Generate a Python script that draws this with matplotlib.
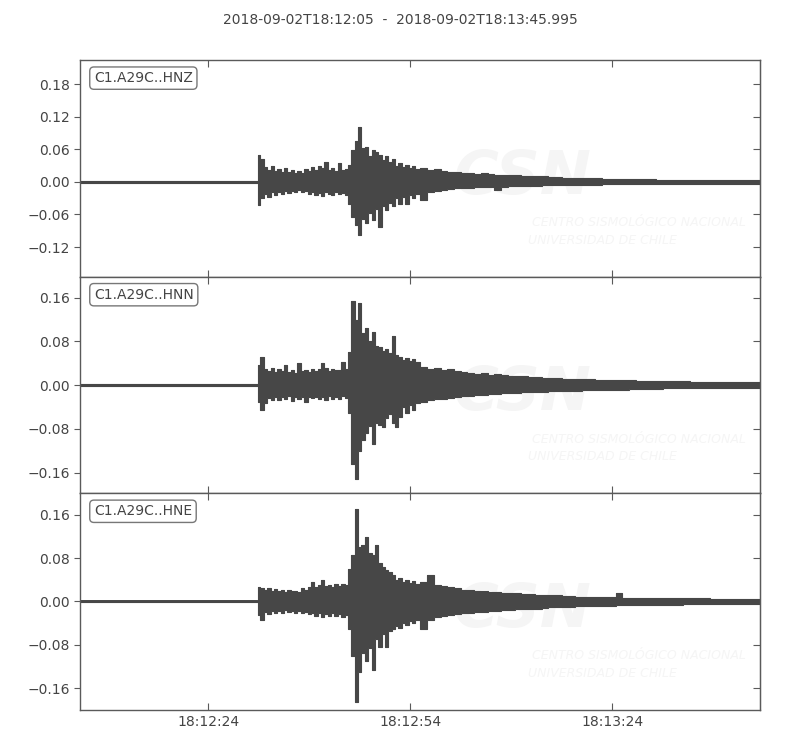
import numpy as np
import matplotlib.pyplot as plt
from datetime import datetime, timedelta

# record window
start = datetime(2018, 9, 2, 18, 12, 5)
duration = 100.995
title = "2018-09-02T18:12:05  -  2018-09-02T18:13:45.995"

channels = ["C1.A29C..HNZ", "C1.A29C..HNN", "C1.A29C..HNE"]

# envelope sample times (seconds after start)
t_pre = [0.0, 26.2]
t_strong = np.arange(26.5, 50.01, 0.5)
t_coda = np.arange(51.0, 101.01, 1.0)

pre_amp = [0.0012, 0.0014, 0.0014]

# ---- HNZ ----
hnz_up = [0.050, 0.042, 0.028, 0.022, 0.030, 0.020, 0.024, 0.019,
          0.026, 0.018, 0.022, 0.017, 0.020, 0.016, 0.024, 0.020,
          0.028, 0.022, 0.030, 0.025, 0.036, 0.022, 0.026, 0.020,
          0.034, 0.021, 0.024, 0.032, 0.058, 0.075, 0.101, 0.062,
          0.064, 0.048, 0.058, 0.055, 0.050, 0.040, 0.048, 0.036,
          0.042, 0.030, 0.034, 0.028, 0.032, 0.025, 0.029, 0.024,
          0.026, 0.022, 0.024, 0.020, 0.019, 0.018, 0.017, 0.016, 0.015, 0.016,
          0.014, 0.013, 0.013, 0.012, 0.012, 0.011, 0.011, 0.010, 0.010, 0.009,
          0.009, 0.008, 0.008, 0.008, 0.007, 0.007, 0.007, 0.006, 0.006, 0.006,
          0.005, 0.005, 0.005, 0.005, 0.005, 0.004, 0.004, 0.004, 0.004, 0.004,
          0.004, 0.003, 0.003, 0.003, 0.003, 0.003, 0.003, 0.003, 0.003, 0.003,
          0.003]
hnz_lo = [-0.043, -0.030, -0.022, -0.028, -0.019, -0.024, -0.018, -0.022,
          -0.017, -0.020, -0.016, -0.019, -0.015, -0.018, -0.016, -0.022,
          -0.018, -0.024, -0.020, -0.026, -0.019, -0.022, -0.024, -0.018,
          -0.022, -0.020, -0.025, -0.040, -0.065, -0.080, -0.098, -0.068,
          -0.075, -0.058, -0.070, -0.050, -0.083, -0.045, -0.052, -0.038,
          -0.045, -0.030, -0.040, -0.028, -0.040, -0.024, -0.030, -0.022,
          -0.034, -0.018, -0.016, -0.015, -0.013, -0.012, -0.011, -0.011, -0.010, -0.010,
          -0.009, -0.015, -0.009, -0.008, -0.008, -0.007, -0.007, -0.007, -0.006, -0.006,
          -0.006, -0.006, -0.005, -0.005, -0.005, -0.005, -0.005, -0.004, -0.004, -0.004,
          -0.004, -0.004, -0.004, -0.004, -0.003, -0.003, -0.003, -0.003, -0.003, -0.003,
          -0.003, -0.003, -0.003, -0.003, -0.003, -0.003, -0.003, -0.003, -0.003, -0.003,
          -0.003]

# ---- HNN ----
hnn_up = [0.036, 0.052, 0.030, 0.026, 0.031, 0.024, 0.029, 0.025,
          0.037, 0.024, 0.028, 0.023, 0.040, 0.025, 0.027, 0.024,
          0.029, 0.025, 0.030, 0.040, 0.031, 0.026, 0.030, 0.027,
          0.028, 0.042, 0.030, 0.060, 0.153, 0.120, 0.150, 0.095,
          0.105, 0.080, 0.098, 0.072, 0.070, 0.062, 0.066, 0.058,
          0.089, 0.055, 0.052, 0.046, 0.050, 0.044, 0.048, 0.042,
          0.034, 0.030, 0.032, 0.028, 0.029, 0.026, 0.024, 0.022, 0.021, 0.022,
          0.019, 0.020, 0.018, 0.017, 0.017, 0.016, 0.015, 0.015, 0.014, 0.014,
          0.013, 0.012, 0.012, 0.011, 0.011, 0.011, 0.010, 0.010, 0.010, 0.009,
          0.009, 0.009, 0.008, 0.008, 0.008, 0.008, 0.007, 0.007, 0.007, 0.007,
          0.006, 0.006, 0.006, 0.006, 0.006, 0.006, 0.005, 0.005, 0.005, 0.005,
          0.005]
hnn_lo = [-0.030, -0.046, -0.032, -0.024, -0.028, -0.022, -0.027, -0.021,
          -0.026, -0.020, -0.029, -0.022, -0.025, -0.021, -0.031, -0.022,
          -0.024, -0.021, -0.026, -0.022, -0.028, -0.020, -0.026, -0.022,
          -0.025, -0.020, -0.024, -0.050, -0.144, -0.172, -0.120, -0.100,
          -0.088, -0.075, -0.107, -0.070, -0.072, -0.077, -0.060, -0.052,
          -0.070, -0.077, -0.059, -0.040, -0.050, -0.036, -0.045, -0.033,
          -0.030, -0.028, -0.026, -0.025, -0.024, -0.022, -0.020, -0.019, -0.018, -0.018,
          -0.016, -0.016, -0.015, -0.014, -0.014, -0.013, -0.013, -0.012, -0.012, -0.011,
          -0.011, -0.010, -0.010, -0.010, -0.009, -0.009, -0.009, -0.008, -0.008, -0.008,
          -0.008, -0.007, -0.007, -0.007, -0.007, -0.007, -0.006, -0.006, -0.006, -0.006,
          -0.006, -0.006, -0.005, -0.005, -0.005, -0.005, -0.005, -0.005, -0.005, -0.005,
          -0.005]

# ---- HNE ----
hne_up = [0.027, 0.024, 0.022, 0.025, 0.020, 0.023, 0.019, 0.021,
          0.018, 0.022, 0.019, 0.020, 0.018, 0.024, 0.022, 0.026,
          0.035, 0.027, 0.030, 0.039, 0.028, 0.031, 0.027, 0.032,
          0.029, 0.033, 0.030, 0.060, 0.085, 0.171, 0.100, 0.104,
          0.119, 0.090, 0.085, 0.104, 0.071, 0.064, 0.058, 0.054,
          0.048, 0.040, 0.044, 0.036, 0.040, 0.034, 0.038, 0.032,
          0.036, 0.048, 0.030, 0.028, 0.027, 0.025, 0.022, 0.021, 0.020, 0.019,
          0.018, 0.017, 0.016, 0.015, 0.015, 0.014, 0.013, 0.012, 0.012, 0.011,
          0.011, 0.010, 0.010, 0.009, 0.009, 0.009, 0.008, 0.008, 0.008, 0.015,
          0.007, 0.007, 0.007, 0.006, 0.006, 0.006, 0.006, 0.006, 0.006, 0.006,
          0.006, 0.006, 0.006, 0.005, 0.005, 0.005, 0.005, 0.005, 0.005, 0.005,
          0.005]
hne_lo = [-0.025, -0.034, -0.020, -0.024, -0.018, -0.022, -0.017, -0.021,
          -0.016, -0.020, -0.018, -0.022, -0.017, -0.021, -0.020, -0.024,
          -0.022, -0.027, -0.021, -0.029, -0.023, -0.026, -0.022, -0.027,
          -0.024, -0.028, -0.025, -0.050, -0.100, -0.185, -0.130, -0.095,
          -0.110, -0.085, -0.127, -0.070, -0.084, -0.060, -0.084, -0.055,
          -0.050, -0.045, -0.048, -0.040, -0.044, -0.036, -0.040, -0.034,
          -0.050, -0.034, -0.028, -0.026, -0.025, -0.024, -0.022, -0.021, -0.020, -0.019,
          -0.018, -0.017, -0.016, -0.015, -0.014, -0.014, -0.013, -0.013, -0.012, -0.011,
          -0.011, -0.010, -0.010, -0.009, -0.009, -0.009, -0.008, -0.008, -0.008, -0.007,
          -0.007, -0.007, -0.007, -0.006, -0.006, -0.006, -0.006, -0.006, -0.006, -0.005,
          -0.005, -0.005, -0.005, -0.005, -0.005, -0.005, -0.005, -0.005, -0.005, -0.005,
          -0.005]

uppers = [hnz_up, hnn_up, hne_up]
lowers = [hnz_lo, hnn_lo, hne_lo]

ylims = [(-0.175, 0.224), (-0.198, 0.198), (-0.200, 0.199)]
yticks = [[-0.12, -0.06, 0.0, 0.06, 0.12, 0.18],
          [-0.16, -0.08, 0.0, 0.08, 0.16],
          [-0.16, -0.08, 0.0, 0.08, 0.16]]
xticks = [19, 49, 79]

trace_col = '#474747'
text_col = '#444444'
spine_col = '#5a5a5a'
wm_col = '#f5f5f5'

t_all = np.concatenate([t_pre, t_strong, t_coda])

fig, axes = plt.subplots(3, 1, figsize=(8, 7.5), dpi=100, sharex=True)
fig.subplots_adjust(left=0.1004, right=0.9504, top=0.9196, bottom=0.0533, hspace=0)

for i, ax in enumerate(axes):
    up = np.concatenate([[pre_amp[i], pre_amp[i]], uppers[i]])
    lo = np.concatenate([[-pre_amp[i], -pre_amp[i]], lowers[i]])

    # faint CSN watermark
    ax.text(0.65, 0.46, 'CSN', transform=ax.transAxes, fontsize=44, style='italic',
            weight='bold', color=wm_col, ha='center', va='center', zorder=0)
    ax.text(0.664, 0.25, 'CENTRO SISMOLÓGICO NACIONAL', transform=ax.transAxes,
            fontsize=9, style='italic', color=wm_col, ha='left', va='center', zorder=0)
    ax.text(0.658, 0.17, 'UNIVERSIDAD DE CHILE', transform=ax.transAxes,
            fontsize=9, style='italic', color=wm_col, ha='left', va='center', zorder=0)

    # min/max envelope of the trace, drawn per sample bin
    ax.fill_between(t_all, lo, up, step='mid', color=trace_col, lw=0, zorder=2)
    ax.plot(t_all, up, drawstyle='steps-mid', color=trace_col, lw=0.8, zorder=2)
    ax.plot(t_all, lo, drawstyle='steps-mid', color=trace_col, lw=0.8, zorder=2)
    ax.vlines(t_all, lo, up, color=trace_col, lw=0.8, zorder=2)
    ax.plot(t_pre, [0, 0], color=trace_col, lw=1.4, zorder=2)

    ax.set_xlim(0, duration)
    ax.set_ylim(*ylims[i])
    ax.set_yticks(yticks[i])
    ax.set_xticks(xticks)

    ax.tick_params(axis='y', direction='out', length=4, colors=spine_col,
                   labelcolor=text_col, labelsize=10, right=False)
    ax.tick_params(axis='x', direction='in', length=5, top=True, bottom=True,
                   colors=spine_col, labelcolor=text_col, labelsize=10)
    sec = ax.secondary_yaxis('right')
    sec.set_yticks(yticks[i])
    sec.tick_params(direction='in', length=5, colors=spine_col, labelright=False)
    sec.spines['right'].set_color(spine_col)
    for s in ax.spines.values():
        s.set_color(spine_col)
        s.set_linewidth(1.0)

    ax.text(0.02, 0.95, channels[i], transform=ax.transAxes, fontsize=10,
            color=text_col, ha='left', va='top', zorder=5,
            bbox=dict(boxstyle='round,pad=0.3', fc='white', ec='#777777', lw=1.0))

labels = [(start + timedelta(seconds=s)).strftime('%H:%M:%S') for s in xticks]
axes[-1].set_xticklabels(labels)

fig.text(0.5, 0.973, title, ha='center', va='center', fontsize=10, color=text_col)

fig.savefig('out.png', dpi=100)
